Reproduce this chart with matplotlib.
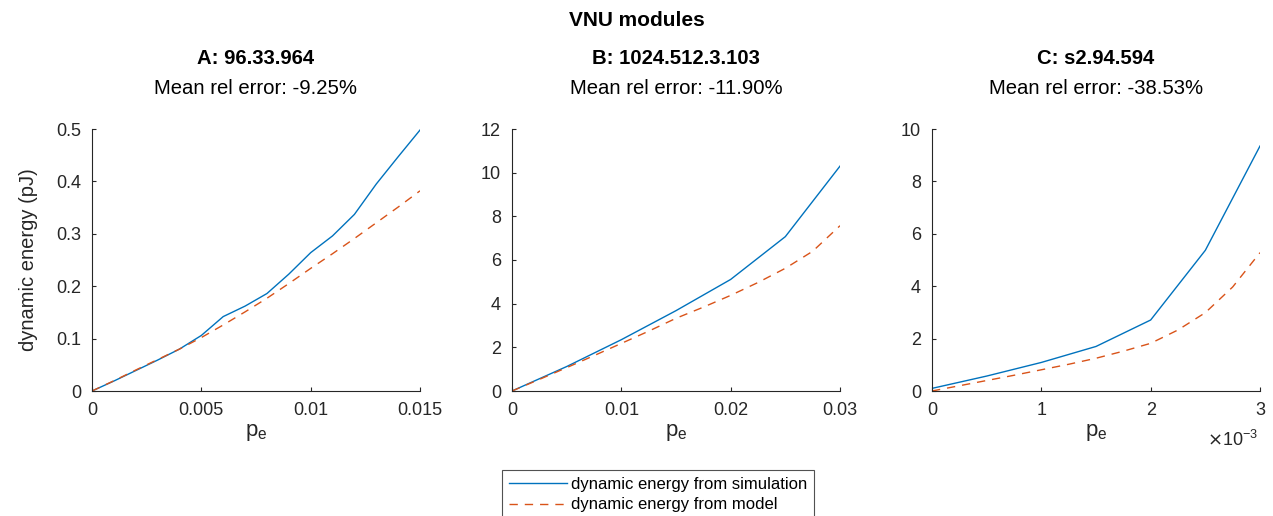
import numpy as np
import matplotlib
matplotlib.use("Agg")
import matplotlib.pyplot as plt

plt.rcParams['font.family'] = ['Liberation Sans', 'DejaVu Sans']

# panel A: 96.33.964
a_pe = [0, 0.001, 0.002, 0.003, 0.004, 0.005, 0.006, 0.007, 0.008, 0.009,
        0.010, 0.011, 0.012, 0.013, 0.014, 0.015]
a_sim = [0, 0.019, 0.039, 0.059, 0.080, 0.106, 0.142, 0.162, 0.186, 0.223,
         0.264, 0.296, 0.337, 0.395, 0.447, 0.498]
a_model = [0, 0.0195, 0.040, 0.060, 0.080, 0.102, 0.126, 0.151, 0.177, 0.205,
           0.234, 0.262, 0.291, 0.321, 0.351, 0.382]

# panel B: 1024.512.3.103
b_pe_sim = [0, 0.005, 0.010, 0.015, 0.020, 0.025, 0.030]
b_sim = [0, 1.12, 2.35, 3.68, 5.11, 7.07, 10.3]
b_pe_model = [0, 0.0025, 0.005, 0.0075, 0.010, 0.0125, 0.015, 0.0175,
              0.020, 0.0225, 0.025, 0.0275, 0.030]
b_model = [0, 0.53, 1.07, 1.62, 2.18, 2.74, 3.33, 3.84, 4.38, 4.97, 5.62, 6.40, 7.57]

# panel C: s2.94.594
c_pe_sim = [0, 0.0005, 0.001, 0.0015, 0.002, 0.0025, 0.003]
c_sim = [0.10, 0.57, 1.09, 1.70, 2.71, 5.37, 9.35]
c_pe_model = [0, 0.00025, 0.0005, 0.00075, 0.001, 0.00125, 0.0015, 0.00175,
              0.002, 0.00225, 0.0025, 0.00275, 0.003]
c_model = [0, 0.20, 0.40, 0.60, 0.81, 1.02, 1.25, 1.52, 1.82, 2.33, 2.99, 3.97, 5.28]

titles = ['A: 96.33.964', 'B: 1024.512.3.103', 'C: s2.94.594']
errors = ['Mean rel error: -9.25%', 'Mean rel error: -11.90%', 'Mean rel error: -38.53%']

blue = '#0072BD'
orange = '#D95319'
axcol = '#262626'

W, H = 1273, 516
fig = plt.figure(figsize=(W / 100, H / 100), dpi=100)

lefts = [92, 512, 932]
top, bottom, width = 129, 391, 328

panels = [
    (a_pe, a_sim, a_pe, a_model, 0.015, [0, 0.005, 0.01, 0.015], ['0', '0.005', '0.01', '0.015'],
     0.5, np.arange(0, 0.51, 0.1), ['0', '0.1', '0.2', '0.3', '0.4', '0.5']),
    (b_pe_sim, b_sim, b_pe_model, b_model, 0.03, [0, 0.01, 0.02, 0.03], ['0', '0.01', '0.02', '0.03'],
     12, np.arange(0, 13, 2), [str(v) for v in range(0, 13, 2)]),
    (c_pe_sim, c_sim, c_pe_model, c_model, 0.003, [0, 0.001, 0.002, 0.003], ['0', '1', '2', '3'],
     10, np.arange(0, 11, 2), [str(v) for v in range(0, 11, 2)]),
]

for i, (xs, ys, xm, ym, xmax, xt, xtl, ymax, yt, ytl) in enumerate(panels):
    l = lefts[i]
    ax = fig.add_axes([l / W, 1 - bottom / H, width / W, (bottom - top) / H])
    ax.plot(xs, ys, color=blue, lw=1.0, label='dynamic energy from simulation')
    ax.plot(xm, ym, color=orange, lw=1.0, dashes=(6, 5), label='dynamic energy from model')
    ax.set_xlim(0, xmax)
    ax.set_ylim(0, ymax)
    ax.set_xticks(xt)
    ax.set_xticklabels(xtl)
    ax.set_yticks(yt)
    ax.set_yticklabels(ytl)
    for s in ['top', 'right']:
        ax.spines[s].set_visible(False)
    for s in ['left', 'bottom']:
        ax.spines[s].set_color(axcol)
        ax.spines[s].set_linewidth(0.8)
    ax.tick_params(direction='in', length=3, width=0.8, colors=axcol, labelsize=13, pad=8)
    ax.set_xlabel('p$_\\mathregular{e}$', fontsize=16, color=axcol, labelpad=2)
    cx = (l + width / 2) / W
    fig.text(cx, 1 - 58 / H, titles[i], ha='center', va='center', fontsize=14.6, fontweight='bold')
    fig.text(cx, 1 - 88 / H, errors[i], ha='center', va='center', fontsize=14.6)
    if i == 0:
        ax.set_ylabel('dynamic energy (pJ)', fontsize=14.5, color=axcol, labelpad=13)
        handles, labels = ax.get_legend_handles_labels()
    if i == 2:
        fig.text(1233 / W, 1 - 440 / H, '$\\times$10$^{\\mathregular{-3}}$', ha='center', va='center',
                 fontsize=13, color=axcol)

fig.text(0.5, 1 - 20 / H, 'VNU modules', ha='center', va='center', fontsize=15, fontweight='bold')

leg = fig.legend(handles, labels, loc='upper left', bbox_to_anchor=(502 / W, 1 - 470 / H),
                 fontsize=12, frameon=True, fancybox=False, handlelength=3.5,
                 borderpad=0.4, labelspacing=0.35, handletextpad=0.25, borderaxespad=0)
leg.get_frame().set_edgecolor(axcol)
leg.get_frame().set_linewidth(0.8)

fig.savefig('out.png', dpi=100)
